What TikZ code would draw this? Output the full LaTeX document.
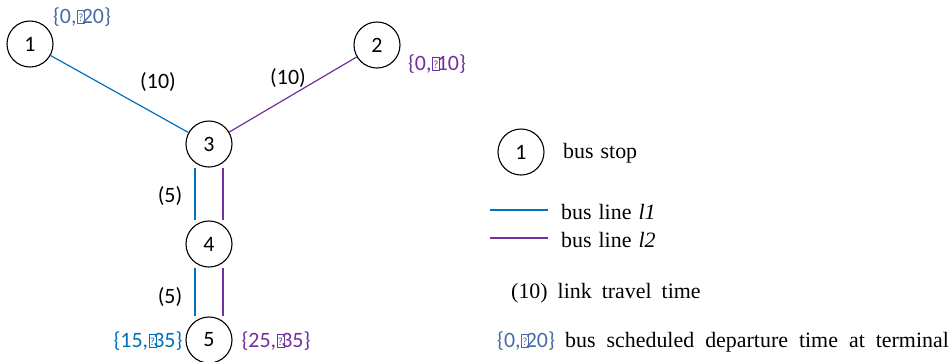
\documentclass[tikz,border=0pt]{standalone}
\usepackage{fontspec}
\setmainfont{Liberation Serif}
\newfontfamily\calfont{Carlito}
\definecolor{lblue}{RGB}{0,112,192}
\definecolor{lpurple}{RGB}{112,48,160}
\definecolor{sblue}{RGB}{70,108,165}
\newcommand{\tofu}{\kern0.5bp{\setlength{\fboxsep}{0pt}\setlength{\fboxrule}{0.6bp}\fbox{\rule{0pt}{13bp}\makebox[6.5bp]{\raisebox{2bp}{\fontsize{11}{11}\selectfont ?}}}}\kern-3bp}
\tikzset{
  stop/.style={circle,draw,line width=1.1bp,minimum size=46bp,inner sep=0pt,font=\calfont\fontsize{22}{22}\selectfont},
  lab/.style={font=\calfont\fontsize{22}{22}\selectfont,inner sep=0pt},
  leg/.style={font=\fontsize{22}{22}\selectfont,inner sep=0pt,anchor=west},
  l1/.style={draw=lblue,line width=1.2bp},
  l2/.style={draw=lpurple,line width=1.2bp}
}
\begin{document}
\begin{tikzpicture}[x=1bp,y=-1bp]
\useasboundingbox (0,0) rectangle (951,361);
\node[stop] (n1) at (30,44) {1};
\node[stop] (n2) at (377,45) {2};
\node[stop] (n3) at (209,144) {3};
\node[stop] (n4) at (209,244) {4};
\node[stop] (n5) at (209,340) {5};
% links
\draw[l1] (n1) -- (n3);
\draw[l2] (n2) -- (n3);
\draw[l1] ([xshift=-14bp]n3.south) -- ([xshift=-14bp]n4.north);
\draw[l2] ([xshift=14bp]n3.south) -- ([xshift=14bp]n4.north);
\draw[l1] ([xshift=-14bp]n4.south) -- ([xshift=-14bp]n5.north);
\draw[l2] ([xshift=14bp]n4.south) -- ([xshift=14bp]n5.north);
% labels
\node[lab,text=sblue] (t1) at (82,17) {\{0,\tofu20\}};
\node[lab,text=lpurple] (t2) at (437,64) {\{0,\tofu10\}};
\node[lab] (w13) at (158,82) {(10)};
\node[lab] (w23) at (288,78) {(10)};
\node[lab] (w34) at (170,196) {(5)};
\node[lab] (w45) at (170,297) {(5)};
\node[lab,text=lblue] (t5a) at (148,341) {\{15,\tofu35\}};
\node[lab,text=lpurple] (t5b) at (276,341) {\{25,\tofu35\}};
% legend
\node[stop] (lg1) at (521,152) {1};
\node[leg] (lgs) at (563,153) {\spaceskip=7bp\relax bus stop};
\coordinate (a1) at (490,210);
\coordinate (b1) at (548,210);
\coordinate (a2) at (490,238);
\coordinate (b2) at (548,238);
\draw[l1] (a1) -- (b1);
\draw[l2] (a2) -- (b2);
\node[leg] (lgl1) at (561,212) {\spaceskip=7bp\relax bus line \textit{l1}};
\node[leg] (lgl2) at (561,240) {\spaceskip=7bp\relax bus line \textit{l2}};
\node[leg] (lgt) at (511,293) {\spaceskip=10bp\relax (10) link travel time};
\node[lab,text=sblue,anchor=west] (lgd) at (497,341) {\{0,\tofu20\}};
\node[leg] (lgdt) at (565,342) {\spaceskip=11bp\relax bus scheduled departure time at terminal};
\end{tikzpicture}
\end{document}
